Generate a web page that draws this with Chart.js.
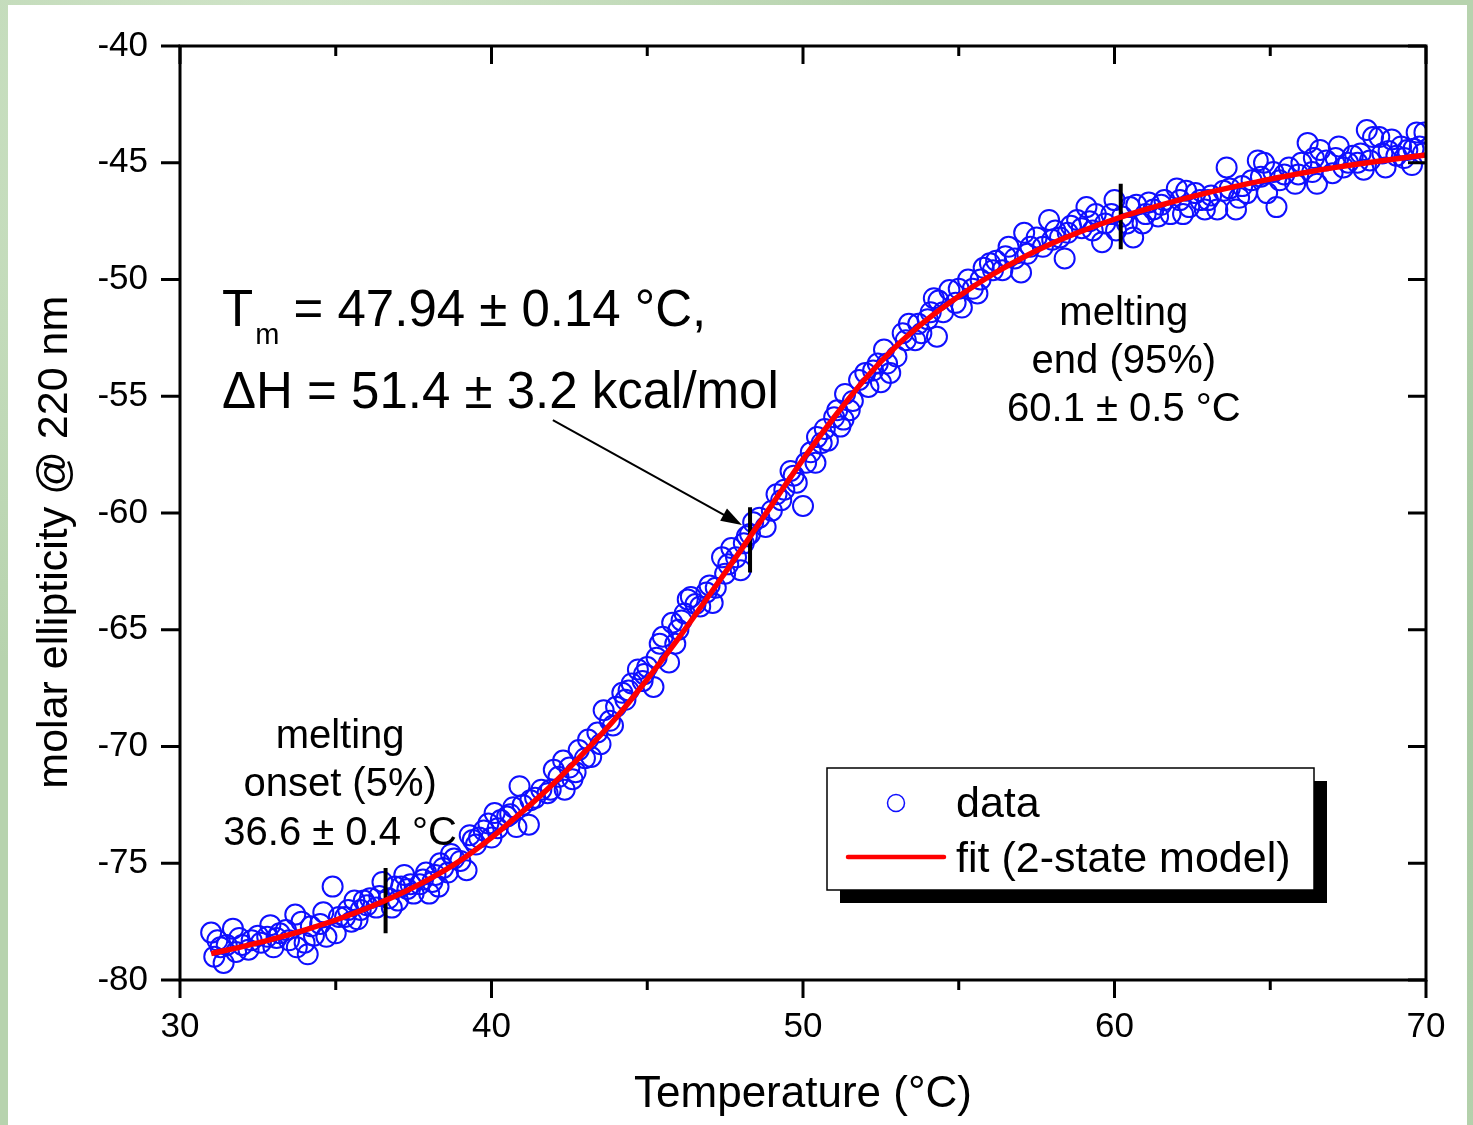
<!DOCTYPE html>
<html>
<head>
<meta charset="utf-8">
<script src="https://cdn.jsdelivr.net/npm/chart.js@4/dist/chart.umd.min.js"></script>
<style>
    html, body { margin: 0; padding: 0; }
    body {
        width: 1473px; height: 1125px; overflow: hidden; position: relative;
        background:
            radial-gradient(circle at 20% 10%, #d3e6cb 0, rgba(211,230,203,0) 40%),
            radial-gradient(circle at 80% 60%, #9fc29a 0, rgba(159,194,154,0) 45%),
            #b7d3ae;
    }
    #paper { position: absolute; left: 8px; top: 5px; width: 1459px; height: 1120px; background: #fff; }
    #chart { position: absolute; left: 0; top: 0; }
</style>
</head>
<body>
<div id="paper"></div>
<canvas id="chart" width="1473" height="1125"></canvas>
<script>
// --  data  --
const temps = [
    31.0, 31.1, 31.2, 31.4, 31.5, 31.7, 31.9, 32.0, 32.3, 32.5,
    32.8, 32.9, 33.0, 33.2, 33.4, 33.7, 33.75, 33.9, 34.0, 34.1,
    34.3, 34.6, 34.7, 34.9, 35.0, 35.3, 35.5, 35.6, 35.7, 35.9,
    36.1, 36.3, 36.5, 36.7, 36.8, 36.9, 37.0, 37.2, 37.3, 37.5,
    37.8, 38.0, 38.2, 38.3, 38.35, 38.45, 38.6, 38.7, 39.0, 39.2,
    39.3, 39.4, 39.6, 39.9, 40.1, 40.2, 40.3, 40.5, 40.7, 40.8,
    40.9, 41.0, 41.2, 41.25, 41.4, 41.6, 41.9, 42.0, 42.15, 42.3,
    42.35, 42.5, 42.7, 42.8, 43.0, 43.1, 43.2, 43.4, 43.6, 43.8,
    44.0, 44.2, 44.3, 44.5, 44.7, 44.85, 45.0, 45.2, 45.4, 45.5,
    45.7, 45.8, 46.0, 46.2, 46.3, 46.4, 46.7, 46.9, 47.1, 47.2,
    47.4, 47.5, 47.7, 48.0, 48.1, 48.2, 48.4, 48.6, 48.8, 49.0,
    49.15, 49.3, 49.6, 49.8, 50.0, 50.1, 50.25, 50.4, 50.45, 50.6,
    50.8, 51.0, 51.2, 51.3, 51.35, 51.6, 51.8, 52.1, 52.25, 52.4,
    52.5, 52.6, 52.8, 53.0, 53.2, 53.4, 53.6, 53.8, 54.0, 54.1,
    54.2, 54.3, 54.35, 54.5, 54.7, 54.9, 55.1, 55.3, 55.45, 55.6,
    55.8, 56.0, 56.2, 56.4, 56.6, 56.8, 57.0, 57.1, 57.3, 57.5,
    57.7, 57.9, 58.1, 58.25, 58.4, 58.6, 58.8, 58.95, 59.1, 59.3,
    59.4, 59.6, 59.9, 60.0, 60.05, 60.25, 60.5, 60.6, 60.7, 60.9,
    61.1, 61.25, 61.4, 61.6, 61.8, 62.0, 62.2, 62.3, 62.4, 62.6,
    62.75, 62.9, 63.1, 63.3, 63.5, 63.6, 63.9, 64.1, 64.25, 64.4,
    64.6, 64.8, 64.9, 65.2, 65.3, 65.45, 65.6, 65.8, 66.0, 66.2,
    66.35, 66.5, 66.6, 66.8, 67.0, 67.2, 67.35, 67.5, 67.65, 67.8,
    68.0, 68.1, 68.3, 68.5, 68.6, 68.7, 68.9, 69.05, 69.2, 69.4,
    69.55, 69.7, 69.8, 69.9, 69.95,
    // second pass over the crowded parts
    31.3, 31.8, 32.2, 32.6, 33.1, 33.5, 34.2, 34.5, 35.1, 35.4,
    35.8, 36.0, 36.4, 37.1, 37.4, 37.7, 37.9, 38.1, 38.8, 39.5,
    39.75, 40.0, 40.6, 41.8, 42.6, 43.5, 43.9, 44.4, 44.9, 45.3,
    45.9, 46.1, 46.55, 47.0, 47.6, 47.85, 48.3, 49.4, 49.7, 50.7,
    51.1, 51.5, 52.0, 52.7, 53.3, 53.7, 55.0, 55.7, 56.1, 56.5,
    57.2, 58.0, 58.5, 59.2, 59.7, 60.4, 61.0, 61.5, 62.1, 63.0,
    63.7, 64.0, 64.7, 65.1, 65.9, 66.4, 67.1, 67.9, 68.2, 68.8,
    69.3, 69.6
]
const ellipticity = [
    -77.97, -79.0, -78.3, -79.27, -78.5, -77.8, -78.2, -78.5, -78.3, -78.1,
    -78.15, -77.65, -78.6, -78.0, -77.86, -77.2, -78.6, -77.5, -78.4, -78.9,
    -78.1, -77.1, -78.15, -76.0, -78.0, -77.3, -77.5, -76.6, -77.4, -76.6,
    -76.5, -76.9, -75.8, -76.5, -76.9, -76.0, -76.6, -75.5, -76.1, -76.3,
    -75.7, -76.3, -75.5, -76.0, -75.0, -75.2, -75.4, -74.6, -74.9, -75.3,
    -73.8, -74.0, -73.9, -73.3, -72.85, -73.5, -73.15, -73.0, -72.6, -73.45,
    -71.7, -72.5, -73.35, -72.3, -72.2, -71.85, -71.85, -71.0, -71.3, -70.6,
    -71.85, -70.9, -71.1, -70.15, -70.5, -69.7, -70.45, -69.4, -68.45, -68.9,
    -68.3, -67.7, -68.0, -67.3, -66.7, -67.2, -66.6, -67.45, -65.6, -65.3,
    -66.4, -64.7, -65.0, -64.3, -63.7, -63.6, -64.0, -63.4, -63.85, -63.2,
    -61.9, -62.6, -61.5, -62.45, -61.3, -61.0, -60.4, -60.2, -60.6, -59.9,
    -59.2, -59.45, -58.2, -58.7, -59.7, -57.85, -57.4, -57.85, -56.75, -57.0,
    -56.9, -55.9, -56.3, -56.0, -54.9, -55.2, -54.3, -54.6, -53.9, -53.6,
    -54.4, -53.0, -54.0, -53.3, -52.3, -51.9, -52.6, -52.3, -51.7, -51.4,
    -50.8, -52.45, -50.9, -51.4, -50.45, -51.0, -51.2, -50.0, -50.4, -50.6,
    -49.5, -49.3, -49.2, -49.6, -48.6, -49.1, -49.7, -48.0, -48.6, -48.2,
    -48.6, -47.45, -47.9, -48.2, -49.1, -47.7, -47.45, -47.8, -46.9, -47.9,
    -47.2, -48.4, -47.2, -46.6, -47.9, -47.3, -46.9, -48.2, -46.8, -47.6,
    -46.7, -47.0, -47.3, -46.6, -47.2, -46.1, -47.2, -46.2, -46.9, -46.3,
    -46.6, -47.0, -46.4, -47.0, -46.2, -45.2, -47.0, -46.0, -46.3, -45.75,
    -44.9, -45.0, -46.3, -46.9, -45.75, -45.5, -45.2, -45.9, -45.0, -44.15,
    -45.4, -45.9, -44.45, -44.9, -45.45, -44.3, -45.2, -45.0, -44.7, -45.0,
    -45.3, -43.6, -43.9, -43.9, -44.6, -45.2, -44.0, -44.7, -44.3, -44.45,
    -45.1, -43.7, -44.3, -44.6, -43.7,
    -78.6, -78.8, -78.7, -78.4, -78.2, -78.3, -77.7, -77.6, -77.3, -77.0,
    -77.0, -76.8, -76.4, -76.0, -75.9, -75.9, -75.4, -75.8, -74.8, -74.2,
    -73.6, -73.9, -72.9, -72.0, -71.4, -69.9, -69.1, -67.6, -66.9, -66.2,
    -65.6, -64.6, -63.9, -63.1, -62.2, -61.9, -60.9, -59.0, -58.4, -56.4,
    -55.6, -55.6, -54.0, -53.6, -52.6, -51.9, -50.4, -50.0, -49.6, -49.0,
    -48.9, -48.3, -48.0, -47.5, -47.6, -47.6, -47.2, -46.8, -46.6, -46.6,
    -46.1, -46.5, -45.6, -45.4, -45.5, -44.8, -44.8, -44.6, -44.9, -44.5,
    -44.8, -44.4
]

// red fit curve, read every degree
const fitTemps = [31, 32, 33, 34, 35, 36, 37, 38, 39, 40, 41, 42, 43, 44, 45, 46, 47, 48, 49, 50,
                  51, 52, 53, 54, 55, 56, 57, 58, 59, 60, 61, 62, 63, 64, 65, 66, 67, 68, 69, 70]
const fitValues = [-78.87, -78.57, -78.24, -77.86, -77.43, -76.93, -76.35, -75.68, -74.88, -73.9,
                   -72.78, -71.57, -70.22, -68.77, -67.12, -65.37, -63.5, -61.6, -59.65, -57.7,
                   -55.9, -54.25, -52.85, -51.7, -50.72, -49.85, -49.1, -48.45, -47.9, -47.42,
                   -47.0, -46.62, -46.28, -45.98, -45.7, -45.45, -45.22, -45.02, -44.84, -44.67]

// onset / Tm / end markers
const markerTemps = [36.6, 48.3, 60.2]
const markerValues = [-76.6, -61.15, -47.3]

const xTickValues = [30, 40, 50, 60, 70]
const xMinorTicks = [35, 45, 55, 65]
const yTickValues = [-80, -75, -70, -65, -60, -55, -50, -45, -40]

const FONT = '"Liberation Sans", Arial, sans-serif'


//  --  building datasets from the arrays  --
function toPoints (xs, ys) {
    const pts = []
    for (let i = 0; i < xs.length; i++) {
        pts.push({x: xs[i], y: ys[i]})
    }
    return pts
}

const datasets = [{
    type: 'line',
    label: 'fit (2-state model)',
    data: toPoints(fitTemps, fitValues),
    borderColor: '#ff0000',
    borderWidth: 5.5,
    pointRadius: 0,
    cubicInterpolationMode: 'monotone',
    order: 0
}]

for (let i = 0; i < markerTemps.length; i++) {
    // short vertical bar through the curve
    datasets.push({
        type: 'line',
        label: 'marker' + i,
        data: [{x: markerTemps[i], y: markerValues[i] + 1.4}, {x: markerTemps[i], y: markerValues[i] - 1.4}],
        borderColor: '#000',
        borderWidth: 4,
        pointRadius: 0,
        order: 1
    })
}

datasets.push({
    type: 'scatter',
    label: 'data',
    data: toPoints(temps, ellipticity),
    borderColor: '#0f0fff',
    backgroundColor: 'rgba(0,0,0,0)',
    borderWidth: 2,
    pointRadius: 10,
    pointHoverRadius: 10,
    order: 2
})


//  --  frame, origin-like ticks, legend and text  --
const decorations = {
    id: 'decorations',
    afterDatasetsDraw (chart) {
        const {ctx, chartArea: a, scales: {x, y}} = chart
        ctx.save()
        ctx.strokeStyle = '#000'
        ctx.lineWidth = 3
        ctx.strokeRect(a.left, a.top, a.right - a.left, a.bottom - a.top)

        ctx.beginPath()
        for (let t of xTickValues) {
            const px = x.getPixelForValue(t)
            ctx.moveTo(px, a.bottom); ctx.lineTo(px, a.bottom + 18) //bottom points out
            ctx.moveTo(px, a.top); ctx.lineTo(px, a.top + 18) //top points in
        }
        for (let t of xMinorTicks) {
            const px = x.getPixelForValue(t)
            ctx.moveTo(px, a.bottom); ctx.lineTo(px, a.bottom + 10)
            ctx.moveTo(px, a.top); ctx.lineTo(px, a.top + 10)
        }
        for (let v of yTickValues) {
            const py = y.getPixelForValue(v)
            ctx.moveTo(a.left - 19, py); ctx.lineTo(a.left, py)
            ctx.moveTo(a.right - 18, py); ctx.lineTo(a.right, py)
        }
        ctx.stroke()
        ctx.restore()
    },
    afterDraw (chart) {
        const {ctx, chartArea: a, scales: {x, y}} = chart
        ctx.save()
        ctx.fillStyle = '#000'
        ctx.textBaseline = 'alphabetic'

        // y title sits a bit below the middle in the original
        ctx.save()
        ctx.font = '43px ' + FONT
        ctx.textAlign = 'center'
        ctx.textBaseline = 'middle'
        ctx.translate(55, y.getPixelForValue(-61.25))
        ctx.rotate(-Math.PI / 2)
        ctx.fillText('molar ellipticity @ 220 nm', 0, 0)
        ctx.restore()

        // Tm and dH
        const tx = x.getPixelForValue(31.35)
        ctx.font = '51px ' + FONT
        ctx.textAlign = 'left'
        ctx.fillText('T', tx, y.getPixelForValue(-52.0))
        const tw = ctx.measureText('T').width
        ctx.font = '29px ' + FONT
        ctx.fillText('m', tx + tw + 2, y.getPixelForValue(-52.75))
        const mw = ctx.measureText('m').width
        ctx.font = '51px ' + FONT
        ctx.fillText(' = 47.94 \u00b1 0.14 \u00b0C,', tx + tw + 2 + mw, y.getPixelForValue(-52.0))
        ctx.fillText('\u0394H = 51.4 \u00b1 3.2 kcal/mol', tx, y.getPixelForValue(-55.5))

        // arrow to Tm
        const ax0 = x.getPixelForValue(41.97), ay0 = y.getPixelForValue(-56.02)
        const ax1 = x.getPixelForValue(48.04), ay1 = y.getPixelForValue(-60.51)
        const ang = Math.atan2(ay1 - ay0, ax1 - ax0)
        ctx.strokeStyle = '#000'
        ctx.lineWidth = 2
        ctx.beginPath()
        ctx.moveTo(ax0, ay0)
        ctx.lineTo(ax1 - 18 * Math.cos(ang), ay1 - 18 * Math.sin(ang))
        ctx.stroke()
        ctx.beginPath()
        ctx.moveTo(ax1, ay1)
        ctx.lineTo(ax1 - 21 * Math.cos(ang) + 7 * Math.sin(ang), ay1 - 21 * Math.sin(ang) - 7 * Math.cos(ang))
        ctx.lineTo(ax1 - 21 * Math.cos(ang) - 7 * Math.sin(ang), ay1 - 21 * Math.sin(ang) + 7 * Math.cos(ang))
        ctx.closePath()
        ctx.fill()

        // onset / end notes
        ctx.font = '40px ' + FONT
        ctx.textAlign = 'center'
        const onsetLines = ['melting', 'onset (5%)', '36.6 \u00b1 0.4 \u00b0C']
        const onsetY = [-70.06, -72.12, -74.22]
        onsetLines.forEach((s, i) => ctx.fillText(s, x.getPixelForValue(35.14), y.getPixelForValue(onsetY[i])))
        const endLines = ['melting', 'end (95%)', '60.1 \u00b1 0.5 \u00b0C']
        const endY = [-51.95, -54.01, -56.06]
        endLines.forEach((s, i) => ctx.fillText(s, x.getPixelForValue(60.3), y.getPixelForValue(endY[i])))

        // legend box with drop shadow
        const bx = a.right - 599, by = a.bottom - 212, bw = 487, bh = 122
        ctx.fillStyle = '#000'
        ctx.fillRect(bx + 13, by + 13, bw, bh)
        ctx.fillStyle = '#fff'
        ctx.fillRect(bx, by, bw, bh)
        ctx.lineWidth = 1.5
        ctx.strokeStyle = '#000'
        ctx.strokeRect(bx, by, bw, bh)

        ctx.strokeStyle = '#0f0fff'
        ctx.lineWidth = 1.5
        ctx.beginPath()
        ctx.arc(bx + 69, by + 35, 8.5, 0, Math.PI * 2)
        ctx.stroke()
        ctx.strokeStyle = '#ff0000'
        ctx.lineWidth = 4.5
        ctx.lineCap = 'round'
        ctx.beginPath()
        ctx.moveTo(bx + 21, by + 89)
        ctx.lineTo(bx + 117, by + 89)
        ctx.stroke()

        ctx.fillStyle = '#000'
        ctx.font = '43px ' + FONT
        ctx.textAlign = 'left'
        ctx.fillText('data', bx + 129, by + 49)
        ctx.fillText('fit (2-state model)', bx + 129, by + 104)
        ctx.restore()
    }
}


const chartDom = document.getElementById('chart').getContext('2d')
new Chart(chartDom, {
    type: 'scatter',
    data: {datasets: datasets},
    options: {
        responsive: false,
        animation: false,
        events: [],
        layout: {padding: {top: 46, right: 47, left: 0, bottom: 0}},
        plugins: {
            legend: {display: false},
            tooltip: {enabled: false}
        },
        scales: {
            x: {
                type: 'linear',
                min: 30,
                max: 70,
                afterFit: (scale) => { scale.height = 145 },
                afterBuildTicks: (scale) => { scale.ticks = xTickValues.map(v => ({value: v})) },
                grid: {display: false, drawTicks: false},
                border: {display: false},
                ticks: {
                    padding: 26,
                    color: '#000',
                    font: {family: FONT, size: 35},
                    maxRotation: 0,
                    callback: (v) => String(v)
                },
                title: {
                    display: true,
                    text: 'Temperature (\u00b0C)',
                    color: '#000',
                    font: {family: FONT, size: 44},
                    padding: {top: 0, bottom: 4}
                }
            },
            y: {
                type: 'linear',
                min: -80,
                max: -40,
                afterFit: (scale) => {
                    scale.width = 180
                    scale.paddingTop = 0 //otherwise the label padding pushes the plot down
                    scale.paddingBottom = 0
                },
                afterBuildTicks: (scale) => { scale.ticks = yTickValues.map(v => ({value: v})) },
                grid: {display: false, drawTicks: false},
                border: {display: false},
                ticks: {
                    padding: 32,
                    color: '#000',
                    font: {family: FONT, size: 35},
                    callback: (v) => String(v)
                },
                title: {display: false}
            }
        }
    },
    plugins: [decorations]
})
</script>
</body>
</html>
